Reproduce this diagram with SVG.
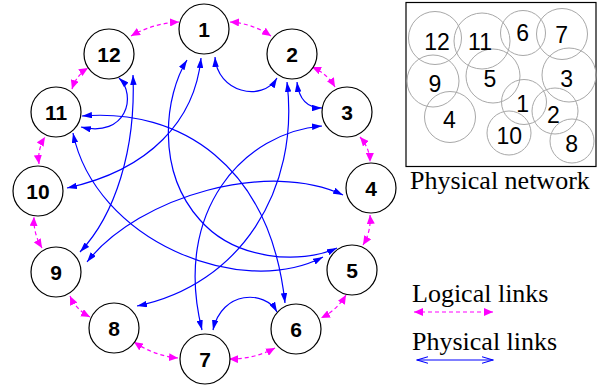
<svg xmlns="http://www.w3.org/2000/svg" width="597" height="389" viewBox="0 0 597 389">
<style>
.node{fill:#fff;stroke:#000;stroke-width:1.2}
.lbl{font-family:"Liberation Sans",Arial,sans-serif;font-weight:bold;font-size:21px;text-anchor:middle;fill:#000}
.phys{fill:none;stroke:#0000ff;stroke-width:1.2;marker-start:url(#ab);marker-end:url(#ab)}
.log{fill:none;stroke:#ff00ff;stroke-width:1.2;stroke-dasharray:4 3;marker-start:url(#am);marker-end:url(#am)}
.pc{fill:none;stroke:#a8a8a8;stroke-width:1}
.pt{font-family:"Liberation Sans",Arial,sans-serif;font-size:23px;text-anchor:middle;fill:#000}
.ser{font-family:"Liberation Serif","Times New Roman",serif;font-size:26px;fill:#000}
</style>
<defs>
<marker id="ab" viewBox="0 0 10 6.5" refX="10" refY="3.25" markerWidth="10" markerHeight="6.5" orient="auto-start-reverse" markerUnits="userSpaceOnUse"><path d="M0,0 L10,3.25 L0,6.5 z" fill="#0000ff"/></marker>
<marker id="am" viewBox="0 0 9 8" refX="9" refY="4" markerWidth="9" markerHeight="8" orient="auto-start-reverse" markerUnits="userSpaceOnUse"><path d="M0,0 L9,4 L0,8 z" fill="#ff00ff"/></marker>
<marker id="ao" viewBox="0 0 12 8" refX="11" refY="4" markerWidth="12" markerHeight="8" orient="auto-start-reverse" markerUnits="userSpaceOnUse"><path d="M0,0.8 L11,4 L0,7.2" fill="none" stroke="#0000ff" stroke-width="1.1"/></marker>
</defs>
<g id="connectors">
<path class="phys" d="M215,57 C217,92 262,103 277,78"/>
<path class="phys" d="M297,82 C299,100 308,108 322,108"/>
<path class="phys" d="M119,78 C137,95 127,138 81,127"/>
<path class="phys" d="M277,312 C265,290 222,290 213,330"/>
<path class="phys" d="M82,116 C180,108 270,165 285,303"/>
<path class="phys" d="M187,60 C165,95 155,170 200,220 C235,260 300,265 337,248"/>
<path class="phys" d="M73,133 C95,240 240,300 323,257"/>
<path class="phys" d="M201,58 C195,120 150,170 67,188"/>
<path class="phys" d="M133,75 C136,150 115,215 80,252"/>
<path class="phys" d="M87,262 C140,195 270,160 343,195"/>
<path class="phys" d="M322,126 C245,132 172,210 202,330"/>
<path class="phys" d="M287,82 C300,190 240,285 137,306"/>
<path class="log" d="M131,36 Q153.2,23.3 179,22"/>
<path class="log" d="M230,22 Q252.1,23.2 271,36"/>
<path class="log" d="M312,67 Q327.1,73.5 335,87"/>
<path class="log" d="M360,137 Q369.8,148.2 370,162"/>
<path class="log" d="M370,215 Q371.4,231.1 363,245"/>
<path class="log" d="M346,295 Q337.3,309.8 321,318"/>
<path class="log" d="M275,348 Q253.7,359.3 229,359"/>
<path class="log" d="M178,358 Q154.2,355.7 134,342"/>
<path class="log" d="M90,317 Q76.3,309.8 70,296"/>
<path class="log" d="M42,248 Q33.2,233.6 34,217"/>
<path class="log" d="M39,164 Q37.2,149.3 45,137"/>
<path class="log" d="M72,89 Q76.3,75.2 88,68"/>
</g>
<g id="n1"><circle class="node" cx="204" cy="29" r="25"/><text class="lbl" x="204" y="36.5">1</text></g>
<g id="n2"><circle class="node" cx="292" cy="54" r="25"/><text class="lbl" x="292" y="61.5">2</text></g>
<g id="n3"><circle class="node" cx="347" cy="112" r="25"/><text class="lbl" x="347" y="119.5">3</text></g>
<g id="n4"><circle class="node" cx="371" cy="188" r="25"/><text class="lbl" x="371" y="195.5">4</text></g>
<g id="n5"><circle class="node" cx="352" cy="270" r="25"/><text class="lbl" x="352" y="277.5">5</text></g>
<g id="n6"><circle class="node" cx="296" cy="329" r="25"/><text class="lbl" x="296" y="336.5">6</text></g>
<g id="n7"><circle class="node" cx="205" cy="359" r="25"/><text class="lbl" x="205" y="366.5">7</text></g>
<g id="n8"><circle class="node" cx="114" cy="328" r="25"/><text class="lbl" x="114" y="335.5">8</text></g>
<g id="n9"><circle class="node" cx="56" cy="272" r="25"/><text class="lbl" x="56" y="279.5">9</text></g>
<g id="n10"><circle class="node" cx="38" cy="191" r="25"/><text class="lbl" x="38" y="198.5">10</text></g>
<g id="n11"><circle class="node" cx="56" cy="112" r="25"/><text class="lbl" x="56" y="119.5">11</text></g>
<g id="n12"><circle class="node" cx="109" cy="54" r="25"/><text class="lbl" x="109" y="61.5">12</text></g>
<g id="physical-network">
<rect x="406" y="2.5" width="190" height="164" fill="none" stroke="#000" stroke-width="1.2"/>
<circle class="pc" cx="435" cy="38" r="26.5"/>
<circle class="pc" cx="482" cy="41" r="28"/>
<circle class="pc" cx="523" cy="33" r="22.5"/>
<circle class="pc" cx="562" cy="34" r="25.5"/>
<circle class="pc" cx="433" cy="81" r="26"/>
<circle class="pc" cx="493" cy="76" r="27"/>
<circle class="pc" cx="569" cy="75" r="27"/>
<circle class="pc" cx="450" cy="117" r="25.5"/>
<circle class="pc" cx="524" cy="102" r="22.5"/>
<circle class="pc" cx="555" cy="111" r="23"/>
<circle class="pc" cx="509" cy="133" r="22"/>
<circle class="pc" cx="572" cy="141" r="22"/>
<text class="pt" x="437" y="49.5">12</text>
<text class="pt" x="480" y="50">11</text>
<text class="pt" x="522.7" y="41">6</text>
<text class="pt" x="561.7" y="43.3">7</text>
<text class="pt" x="435" y="91.7">9</text>
<text class="pt" x="490" y="86.7">5</text>
<text class="pt" x="566.7" y="86.7">3</text>
<text class="pt" x="449.3" y="128.3">4</text>
<text class="pt" x="522.7" y="111.7">1</text>
<text class="pt" x="553.3" y="123.3">2</text>
<text class="pt" x="509.3" y="144">10</text>
<text class="pt" x="571.7" y="152.3">8</text>
<text class="ser" x="410" y="189">Physical network</text>
</g>
<g id="legend">
<text class="ser" x="412" y="302">Logical links</text>
<path class="log" d="M414,312 L493,312"/>
<text class="ser" x="412" y="350">Physical links</text>
<path d="M417,360 L493,360" fill="none" stroke="#0000ff" stroke-width="1.2" marker-start="url(#ao)" marker-end="url(#ao)"/>
</g>
</svg>
